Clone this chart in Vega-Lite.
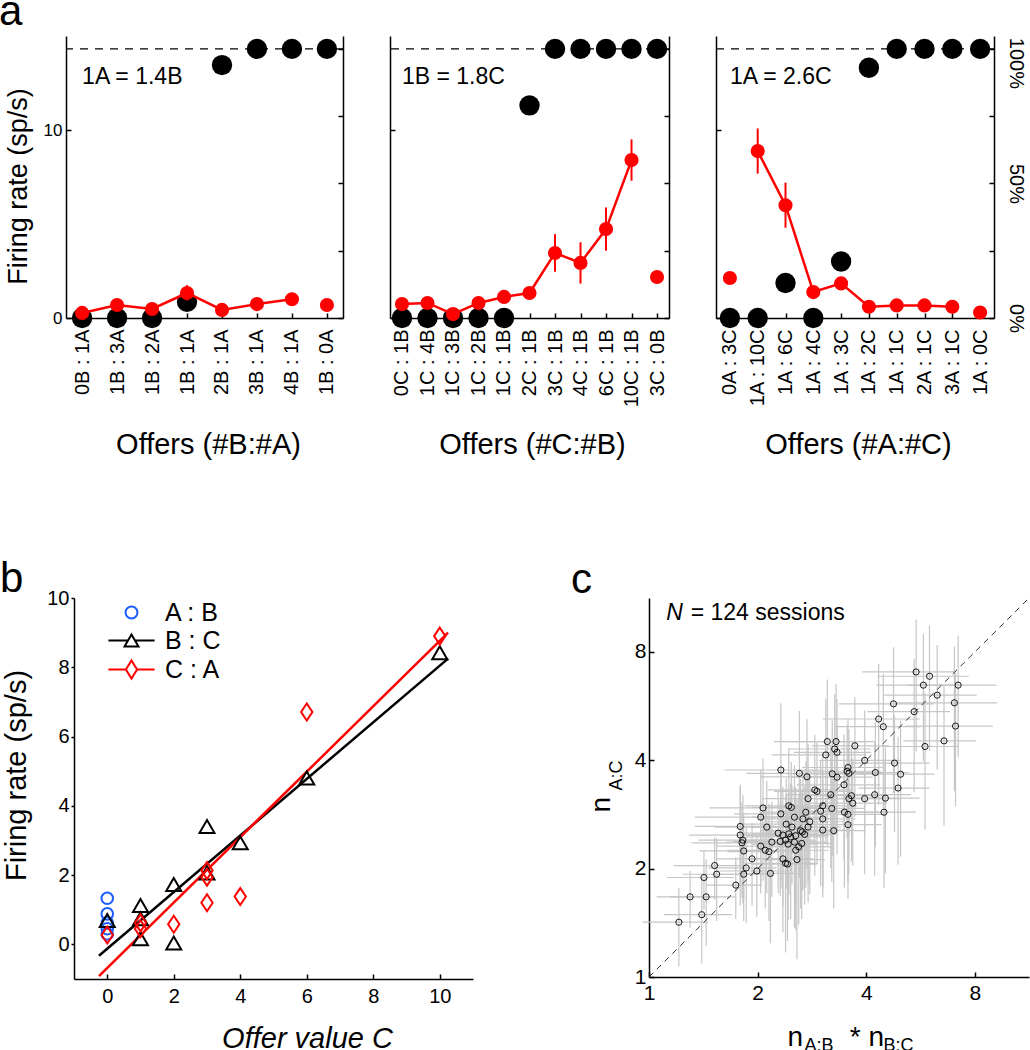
{
  "$schema": "https://vega.github.io/schema/vega-lite/v6.json",
  "padding": {"left": -2, "top": -9, "right": 0, "bottom": 0},
  "background": "white",
  "config": {
    "font": "Liberation Sans",
    "view": {"stroke": null},
    "axis": {"domainColor": "black", "domainWidth": 1.5, "tickColor": "black", "tickWidth": 1.5, "labelColor": "black", "titleColor": "black", "titleFontWeight": "normal", "grid": false, "labelFlush": false, "labelOverlap": false},
    "title": {"fontWeight": "normal", "color": "black", "anchor": "start", "fontSize": 42, "frame": "bounds"}
  },
  "datasets": {
    "a1": [
      {"offer": "0B : 1A", "choice": 0, "rate": 0.27, "lo": 0.17, "hi": 0.37, "conn": 1},
      {"offer": "1B : 3A", "choice": 0, "rate": 0.69, "lo": 0.54, "hi": 0.84, "conn": 1},
      {"offer": "1B : 2A", "choice": 0, "rate": 0.48, "lo": 0.36, "hi": 0.6, "conn": 1},
      {"offer": "1B : 1A", "choice": 6, "rate": 1.33, "lo": 0.93, "hi": 1.75, "conn": 1},
      {"offer": "2B : 1A", "choice": 94, "rate": 0.43, "lo": 0.33, "hi": 0.53, "conn": 1},
      {"offer": "3B : 1A", "choice": 100, "rate": 0.74, "lo": 0.5, "hi": 0.98, "conn": 1},
      {"offer": "4B : 1A", "choice": 100, "rate": 1.0, "lo": 0.85, "hi": 1.15, "conn": 1},
      {"offer": "1B : 0A", "choice": 100, "rate": 0.69, "lo": 0.59, "hi": 0.79, "conn": 0}
    ],
    "a2": [
      {"offer": "0C : 1B", "choice": 0, "rate": 0.74, "lo": 0.6, "hi": 0.88, "conn": 1},
      {"offer": "1C : 4B", "choice": 0, "rate": 0.8, "lo": 0.65, "hi": 0.95, "conn": 1},
      {"offer": "1C : 3B", "choice": 0, "rate": 0.21, "lo": 0.11, "hi": 0.31, "conn": 1},
      {"offer": "1C : 2B", "choice": 0, "rate": 0.8, "lo": 0.6, "hi": 1.0, "conn": 1},
      {"offer": "1C : 1B", "choice": 0, "rate": 1.12, "lo": 0.92, "hi": 1.32, "conn": 1},
      {"offer": "2C : 1B", "choice": 79, "rate": 1.33, "lo": 1.13, "hi": 1.53, "conn": 1},
      {"offer": "3C : 1B", "choice": 100, "rate": 3.46, "lo": 2.46, "hi": 4.46, "conn": 1},
      {"offer": "4C : 1B", "choice": 100, "rate": 2.93, "lo": 1.83, "hi": 4.03, "conn": 1},
      {"offer": "6C : 1B", "choice": 100, "rate": 4.73, "lo": 3.58, "hi": 5.88, "conn": 1},
      {"offer": "10C : 1B", "choice": 100, "rate": 8.4, "lo": 7.3, "hi": 9.5, "conn": 1},
      {"offer": "3C : 0B", "choice": 100, "rate": 2.18, "lo": 2.08, "hi": 2.28, "conn": 0}
    ],
    "a3": [
      {"offer": "0A : 3C", "choice": 0, "rate": 2.13, "lo": 2.03, "hi": 2.23, "conn": 0},
      {"offer": "1A : 10C", "choice": 0, "rate": 8.88, "lo": 7.68, "hi": 10.08, "conn": 1},
      {"offer": "1A : 6C", "choice": 13, "rate": 6.0, "lo": 4.8, "hi": 7.2, "conn": 1},
      {"offer": "1A : 4C", "choice": 0, "rate": 1.38, "lo": 1.18, "hi": 1.58, "conn": 1},
      {"offer": "1A : 3C", "choice": 21, "rate": 1.84, "lo": 1.49, "hi": 2.19, "conn": 1},
      {"offer": "1A : 2C", "choice": 93, "rate": 0.6, "lo": 0.5, "hi": 0.7, "conn": 1},
      {"offer": "1A : 1C", "choice": 100, "rate": 0.67, "lo": 0.57, "hi": 0.77, "conn": 1},
      {"offer": "2A : 1C", "choice": 100, "rate": 0.67, "lo": 0.57, "hi": 0.77, "conn": 1},
      {"offer": "3A : 1C", "choice": 100, "rate": 0.6, "lo": 0.5, "hi": 0.7, "conn": 1},
      {"offer": "1A : 0C", "choice": 100, "rate": 0.29, "lo": 0.19, "hi": 0.39, "conn": 0}
    ],
    "b": [
      {"series": "A : B", "x": 0, "y": 1.33}, {"series": "A : B", "x": 0, "y": 0.88}, {"series": "A : B", "x": 0, "y": 0.62}, {"series": "A : B", "x": 0, "y": 0.45}, {"series": "A : B", "x": 0, "y": 0.3},
      {"series": "B : C", "x": 0, "y": 0.69}, {"series": "B : C", "x": 1, "y": 1.12}, {"series": "B : C", "x": 1, "y": 0.74}, {"series": "B : C", "x": 1, "y": 0.16}, {"series": "B : C", "x": 2, "y": 1.73}, {"series": "B : C", "x": 2, "y": 0.04}, {"series": "B : C", "x": 3, "y": 3.4}, {"series": "B : C", "x": 3, "y": 2.06}, {"series": "B : C", "x": 4, "y": 2.93}, {"series": "B : C", "x": 6, "y": 4.8}, {"series": "B : C", "x": 10, "y": 8.42},
      {"series": "C : A", "x": 0, "y": 0.27}, {"series": "C : A", "x": 1, "y": 0.62}, {"series": "C : A", "x": 1, "y": 0.45}, {"series": "C : A", "x": 2, "y": 0.58}, {"series": "C : A", "x": 3, "y": 2.13}, {"series": "C : A", "x": 3, "y": 1.94}, {"series": "C : A", "x": 3, "y": 1.2}, {"series": "C : A", "x": 4, "y": 1.38}, {"series": "C : A", "x": 6, "y": 6.71}, {"series": "C : A", "x": 10, "y": 8.9}
    ],
    "bfit": [
      {"series": "B : C", "x": -0.25, "y": -0.33}, {"series": "B : C", "x": 10.25, "y": 8.25},
      {"series": "C : A", "x": -0.25, "y": -0.92}, {"series": "C : A", "x": 10.25, "y": 9.0}
    ],
    "diag": [{"v": 1}, {"v": 11.3}],
    "c": [
      {"x":1.21,"y":1.42,"ex":0.25,"ey":0.35},{"x":1.40,"y":1.49,"ex":0.3,"ey":0.4},{"x":1.30,"y":1.67,"ex":0.25,"ey":0.3},{"x":1.44,"y":1.67,"ex":0.3,"ey":0.45},{"x":1.42,"y":1.89,"ex":0.3,"ey":0.35},{"x":1.52,"y":2.04,"ex":0.35,"ey":0.4},{"x":1.54,"y":1.93,"ex":0.3,"ey":0.5},{"x":1.74,"y":1.80,"ex":0.3,"ey":0.35},{"x":1.83,"y":1.93,"ex":0.35,"ey":0.5},{"x":1.86,"y":2.01,"ex":0.4,"ey":0.6},
      {"x":1.99,"y":1.97,"ex":0.45,"ey":0.5},{"x":1.93,"y":2.13,"ex":0.4,"ey":0.55},{"x":2.17,"y":1.94,"ex":0.4,"ey":0.7},{"x":1.83,"y":2.24,"ex":0.45,"ey":0.6},{"x":1.81,"y":2.36,"ex":0.5,"ey":0.7},{"x":1.82,"y":2.40,"ex":0.45,"ey":0.8},{"x":1.79,"y":2.48,"ex":0.5,"ey":0.9},{"x":1.79,"y":2.62,"ex":0.45,"ey":0.8},{"x":2.04,"y":2.31,"ex":0.5,"ey":0.6},{"x":2.10,"y":2.25,"ex":0.45,"ey":0.7},
      {"x":2.15,"y":2.23,"ex":0.5,"ey":0.8},{"x":2.19,"y":2.37,"ex":0.55,"ey":0.7},{"x":2.12,"y":2.61,"ex":0.6,"ey":0.9},{"x":2.04,"y":2.78,"ex":0.7,"ey":1.0},{"x":2.07,"y":2.95,"ex":0.6,"ey":1.1},{"x":2.32,"y":2.84,"ex":0.6,"ey":1.0},{"x":2.44,"y":2.99,"ex":0.6,"ey":1.3},{"x":2.48,"y":2.96,"ex":0.55,"ey":1.0},{"x":2.28,"y":2.51,"ex":0.5,"ey":0.8},{"x":2.35,"y":2.48,"ex":0.55,"ey":0.9},
      {"x":2.31,"y":2.38,"ex":0.6,"ey":0.7},{"x":2.39,"y":2.40,"ex":0.5,"ey":0.8},{"x":2.40,"y":2.66,"ex":0.6,"ey":0.9},{"x":2.44,"y":2.50,"ex":0.5,"ey":0.8},{"x":2.47,"y":2.45,"ex":0.6,"ey":1.0},{"x":2.43,"y":2.34,"ex":0.5,"ey":0.9},{"x":2.49,"y":2.61,"ex":0.55,"ey":0.8},{"x":2.53,"y":2.78,"ex":0.6,"ey":1.1},{"x":2.55,"y":2.47,"ex":0.6,"ey":0.9},{"x":2.53,"y":2.37,"ex":0.55,"ey":1.0},
      {"x":2.55,"y":2.25,"ex":0.6,"ey":0.9},{"x":2.57,"y":2.12,"ex":0.5,"ey":1.0},{"x":2.35,"y":2.13,"ex":0.5,"ey":0.8},{"x":2.39,"y":2.07,"ex":0.55,"ey":0.9},{"x":2.42,"y":2.06,"ex":0.5,"ey":0.8},{"x":2.60,"y":2.30,"ex":0.6,"ey":0.9},{"x":2.63,"y":2.55,"ex":0.6,"ey":1.0},{"x":2.66,"y":2.53,"ex":0.55,"ey":0.8},{"x":2.65,"y":2.35,"ex":0.6,"ey":0.9},{"x":2.67,"y":2.75,"ex":0.65,"ey":1.0},
      {"x":2.70,"y":2.49,"ex":0.6,"ey":0.9},{"x":2.72,"y":2.87,"ex":0.7,"ey":1.1},{"x":2.76,"y":2.61,"ex":0.65,"ey":1.0},{"x":2.79,"y":2.70,"ex":0.7,"ey":1.0},{"x":2.76,"y":3.13,"ex":0.7,"ey":1.3},{"x":2.88,"y":3.31,"ex":0.75,"ey":1.4},{"x":2.92,"y":3.28,"ex":0.7,"ey":1.2},{"x":2.99,"y":2.89,"ex":0.7,"ey":1.1},{"x":3.03,"y":2.99,"ex":0.75,"ey":1.2},{"x":3.03,"y":2.75,"ex":0.7,"ey":1.0},
      {"x":3.03,"y":2.56,"ex":0.65,"ey":0.9},{"x":3.19,"y":3.21,"ex":0.8,"ey":1.2},{"x":3.21,"y":2.94,"ex":0.75,"ey":1.1},{"x":3.25,"y":2.55,"ex":0.7,"ey":1.0},{"x":2.32,"y":3.76,"ex":0.7,"ey":2.0},{"x":2.61,"y":3.68,"ex":0.75,"ey":1.8},{"x":2.74,"y":3.60,"ex":0.7,"ey":1.6},{"x":3.12,"y":4.51,"ex":0.9,"ey":2.2},{"x":3.30,"y":4.51,"ex":0.9,"ey":2.0},{"x":3.27,"y":4.30,"ex":0.85,"ey":1.8},
      {"x":3.32,"y":4.21,"ex":0.8,"ey":1.7},{"x":3.09,"y":4.14,"ex":0.9,"ey":1.8},{"x":3.22,"y":3.67,"ex":0.8,"ey":1.5},{"x":3.32,"y":3.59,"ex":0.85,"ey":1.4},{"x":3.47,"y":3.42,"ex":0.9,"ey":1.3},{"x":3.56,"y":3.82,"ex":0.9,"ey":1.4},{"x":3.54,"y":3.73,"ex":0.85,"ey":1.3},{"x":3.58,"y":3.68,"ex":0.9,"ey":1.2},{"x":3.64,"y":3.19,"ex":0.9,"ey":1.1},{"x":3.58,"y":3.13,"ex":0.85,"ey":1.2},
      {"x":3.67,"y":3.04,"ex":0.9,"ey":1.0},{"x":3.48,"y":2.87,"ex":0.85,"ey":1.1},{"x":3.56,"y":2.83,"ex":0.9,"ey":1.0},{"x":3.56,"y":2.65,"ex":0.85,"ey":1.0},{"x":3.72,"y":4.39,"ex":0.9,"ey":1.6},{"x":3.96,"y":4.00,"ex":1.0,"ey":1.5},{"x":3.96,"y":3.13,"ex":1.0,"ey":1.2},{"x":4.22,"y":3.21,"ex":1.1,"ey":1.3},{"x":4.24,"y":3.70,"ex":1.0,"ey":1.4},{"x":4.52,"y":3.14,"ex":1.1,"ey":1.2},
      {"x":4.48,"y":2.87,"ex":1.0,"ey":1.1},{"x":4.79,"y":3.93,"ex":1.2,"ey":1.4},{"x":4.98,"y":3.66,"ex":1.2,"ey":1.5},{"x":4.90,"y":3.35,"ex":1.1,"ey":1.3},{"x":4.33,"y":5.21,"ex":1.3,"ey":2.2},{"x":4.46,"y":4.96,"ex":1.2,"ey":2.0},{"x":4.76,"y":5.74,"ex":1.4,"ey":2.5},{"x":5.43,"y":5.46,"ex":1.4,"ey":2.2},{"x":5.50,"y":7.04,"ex":1.6,"ey":2.8},{"x":5.99,"y":6.85,"ex":1.7,"ey":2.6},
      {"x":5.76,"y":6.47,"ex":1.5,"ey":2.5},{"x":7.19,"y":6.47,"ex":2.0,"ey":2.4},{"x":6.29,"y":6.07,"ex":1.8,"ey":2.3},{"x":7.02,"y":5.78,"ex":2.2,"ey":2.5},{"x":7.07,"y":4.98,"ex":1.9,"ey":2.0},{"x":6.57,"y":4.53,"ex":1.5,"ey":1.9},{"x":5.82,"y":4.37,"ex":1.4,"ey":1.8}
    ]
  },
  "spacing": 562,
  "bounds": "flush",
  "vconcat": [
    {
      "title": {"text": "a", "offset": 2, "dx": -5},
      "spacing": 47,
      "bounds": "flush",
      "hconcat": [
        {
          "width": 277, "height": 282,
          "data": {"name": "a1"},
          "resolve": {"scale": {"y": "independent"}},
          "layer": [
            {"layer": [
              {"data": {"values": [{}]}, "mark": {"type": "rule", "strokeDash": [8, 7], "strokeWidth": 1.3, "color": "black"},
               "encoding": {"y": {"datum": 100, "type": "quantitative", "scale": {"domain": [0, 104.8]}, "axis": {"orient": "right", "values": [0, 25, 50, 75, 100], "tickSize": -5, "labels": false, "title": null}}}},
              {"mark": {"type": "circle", "size": 415, "color": "black", "opacity": 1},
               "encoding": {
                 "x": {"field": "offer", "type": "nominal", "scale": {"type": "point", "padding": 0.46, "domain": ["0B : 1A", "1B : 3A", "1B : 2A", "1B : 1A", "2B : 1A", "3B : 1A", "4B : 1A", "1B : 0A"]}, "axis": {"labelAngle": -90, "labelFontSize": 20, "labelPadding": 16, "tickSize": -5, "title": "Offers (#B:#A)", "titleFontSize": 29, "titleX": 142, "titleY": 135, "titleAlign": "center", "titleBaseline": "alphabetic"}},
                 "y": {"field": "choice", "type": "quantitative", "scale": {"domain": [0, 104.8]}, "axis": {"orient": "right", "values": [0, 25, 50, 75, 100], "tickSize": -5, "labels": false, "title": null}}}}
            ]},
            {"layer": [
              {"mark": {"type": "rule", "color": "red", "strokeWidth": 2},
               "encoding": {
                 "x": {"field": "offer", "type": "nominal", "scale": {"type": "point", "padding": 0.46, "domain": ["0B : 1A", "1B : 3A", "1B : 2A", "1B : 1A", "2B : 1A", "3B : 1A", "4B : 1A", "1B : 0A"]}},
                 "y": {"field": "lo", "type": "quantitative", "scale": {"domain": [0, 15]}, "axis": {"orient": "left", "values": [0, 10], "tickSize": -5, "labelFontSize": 17, "labelPadding": 9, "title": "Firing rate (sp/s)", "titleFontSize": 27, "titleX": -40, "titleY": 150, "titleAlign": "center", "titleBaseline": "alphabetic", "titleAngle": -90}},
                 "y2": {"field": "hi"}}},
              {"transform": [{"filter": "datum.conn == 1"}], "mark": {"type": "line", "color": "red", "strokeWidth": 2.5},
               "encoding": {
                 "x": {"field": "offer", "type": "nominal", "scale": {"type": "point", "padding": 0.46, "domain": ["0B : 1A", "1B : 3A", "1B : 2A", "1B : 1A", "2B : 1A", "3B : 1A", "4B : 1A", "1B : 0A"]}},
                 "y": {"field": "rate", "type": "quantitative", "scale": {"domain": [0, 15]}}}},
              {"mark": {"type": "circle", "size": 200, "color": "red", "opacity": 1},
               "encoding": {
                 "x": {"field": "offer", "type": "nominal", "scale": {"type": "point", "padding": 0.46, "domain": ["0B : 1A", "1B : 3A", "1B : 2A", "1B : 1A", "2B : 1A", "3B : 1A", "4B : 1A", "1B : 0A"]}},
                 "y": {"field": "rate", "type": "quantitative", "scale": {"domain": [0, 15]}}}},
              {"data": {"values": [{}]}, "mark": {"type": "text", "text": "1A = 1.4B", "align": "left", "baseline": "alphabetic", "fontSize": 23, "color": "black"},
               "encoding": {
                 "x": {"datum": "0B : 1A", "type": "nominal", "scale": {"type": "point", "padding": 0.46, "domain": ["0B : 1A", "1B : 3A", "1B : 2A", "1B : 1A", "2B : 1A", "3B : 1A", "4B : 1A", "1B : 0A"]}},
                 "y": {"datum": 12.45, "type": "quantitative", "scale": {"domain": [0, 15]}}}}
            ]}
          ]
        },
        {
          "width": 279, "height": 282,
          "data": {"name": "a2"},
          "resolve": {"scale": {"y": "independent"}},
          "layer": [
            {"layer": [
              {"data": {"values": [{}]}, "mark": {"type": "rule", "strokeDash": [8, 7], "strokeWidth": 1.3, "color": "black"},
               "encoding": {"y": {"datum": 100, "type": "quantitative", "scale": {"domain": [0, 104.8]}, "axis": {"orient": "right", "values": [0, 25, 50, 75, 100], "tickSize": -5, "labels": false, "title": null}}}},
              {"mark": {"type": "circle", "size": 415, "color": "black", "opacity": 1},
               "encoding": {
                 "x": {"field": "offer", "type": "nominal", "scale": {"type": "point", "padding": 0.47, "domain": ["0C : 1B", "1C : 4B", "1C : 3B", "1C : 2B", "1C : 1B", "2C : 1B", "3C : 1B", "4C : 1B", "6C : 1B", "10C : 1B", "3C : 0B"]}, "axis": {"labelAngle": -90, "labelFontSize": 20, "labelPadding": 16, "tickSize": -5, "title": "Offers (#C:#B)", "titleFontSize": 29, "titleX": 142, "titleY": 135, "titleAlign": "center", "titleBaseline": "alphabetic"}},
                 "y": {"field": "choice", "type": "quantitative", "scale": {"domain": [0, 104.8]}, "axis": {"orient": "right", "values": [0, 25, 50, 75, 100], "tickSize": -5, "labels": false, "title": null}}}}
            ]},
            {"layer": [
              {"mark": {"type": "rule", "color": "red", "strokeWidth": 2},
               "encoding": {
                 "x": {"field": "offer", "type": "nominal", "scale": {"type": "point", "padding": 0.47, "domain": ["0C : 1B", "1C : 4B", "1C : 3B", "1C : 2B", "1C : 1B", "2C : 1B", "3C : 1B", "4C : 1B", "6C : 1B", "10C : 1B", "3C : 0B"]}},
                 "y": {"field": "lo", "type": "quantitative", "scale": {"domain": [0, 15]}, "axis": {"orient": "left", "values": [0, 10], "tickSize": -5, "labels": false, "title": null}},
                 "y2": {"field": "hi"}}},
              {"transform": [{"filter": "datum.conn == 1"}], "mark": {"type": "line", "color": "red", "strokeWidth": 2.5},
               "encoding": {
                 "x": {"field": "offer", "type": "nominal", "scale": {"type": "point", "padding": 0.47, "domain": ["0C : 1B", "1C : 4B", "1C : 3B", "1C : 2B", "1C : 1B", "2C : 1B", "3C : 1B", "4C : 1B", "6C : 1B", "10C : 1B", "3C : 0B"]}},
                 "y": {"field": "rate", "type": "quantitative", "scale": {"domain": [0, 15]}}}},
              {"mark": {"type": "circle", "size": 200, "color": "red", "opacity": 1},
               "encoding": {
                 "x": {"field": "offer", "type": "nominal", "scale": {"type": "point", "padding": 0.47, "domain": ["0C : 1B", "1C : 4B", "1C : 3B", "1C : 2B", "1C : 1B", "2C : 1B", "3C : 1B", "4C : 1B", "6C : 1B", "10C : 1B", "3C : 0B"]}},
                 "y": {"field": "rate", "type": "quantitative", "scale": {"domain": [0, 15]}}}},
              {"data": {"values": [{}]}, "mark": {"type": "text", "text": "1B = 1.8C", "align": "left", "baseline": "alphabetic", "fontSize": 23, "color": "black"},
               "encoding": {
                 "x": {"datum": "0C : 1B", "type": "nominal", "scale": {"type": "point", "padding": 0.47, "domain": ["0C : 1B", "1C : 4B", "1C : 3B", "1C : 2B", "1C : 1B", "2C : 1B", "3C : 1B", "4C : 1B", "6C : 1B", "10C : 1B", "3C : 0B"]}},
                 "y": {"datum": 12.45, "type": "quantitative", "scale": {"domain": [0, 15]}}}}
            ]}
          ]
        },
        {
          "width": 278, "height": 282,
          "data": {"name": "a3"},
          "resolve": {"scale": {"y": "independent"}},
          "layer": [
            {"layer": [
              {"data": {"values": [{}]}, "mark": {"type": "rule", "strokeDash": [8, 7], "strokeWidth": 1.3, "color": "black"},
               "encoding": {"y": {"datum": 100, "type": "quantitative", "scale": {"domain": [0, 104.8]}, "axis": {"orient": "right", "values": [0, 25, 50, 75, 100], "tickSize": -5, "labelAngle": 90, "labelFontSize": 20, "labelPadding": 20, "labelAlign": "center", "labelBaseline": "alphabetic", "labelOffset": {"condition": {"test": "datum.value == 100", "value": 14}, "value": 0}, "labelExpr": "datum.value % 50 == 0 ? datum.value + '%' : ''", "title": null}}}},
              {"mark": {"type": "circle", "size": 415, "color": "black", "opacity": 1},
               "encoding": {
                 "x": {"field": "offer", "type": "nominal", "scale": {"type": "point", "padding": 0.5, "domain": ["0A : 3C", "1A : 10C", "1A : 6C", "1A : 4C", "1A : 3C", "1A : 2C", "1A : 1C", "2A : 1C", "3A : 1C", "1A : 0C"]}, "axis": {"labelAngle": -90, "labelFontSize": 20, "labelPadding": 16, "tickSize": -5, "title": "Offers (#A:#C)", "titleFontSize": 29, "titleX": 142, "titleY": 135, "titleAlign": "center", "titleBaseline": "alphabetic"}},
                 "y": {"field": "choice", "type": "quantitative", "scale": {"domain": [0, 104.8]}, "axis": {"orient": "right", "values": [0, 25, 50, 75, 100], "tickSize": -5, "labelAngle": 90, "labelFontSize": 20, "labelPadding": 20, "labelAlign": "center", "labelBaseline": "alphabetic", "labelOffset": {"condition": {"test": "datum.value == 100", "value": 14}, "value": 0}, "labelExpr": "datum.value % 50 == 0 ? datum.value + '%' : ''", "title": null}}}}
            ]},
            {"layer": [
              {"mark": {"type": "rule", "color": "red", "strokeWidth": 2},
               "encoding": {
                 "x": {"field": "offer", "type": "nominal", "scale": {"type": "point", "padding": 0.5, "domain": ["0A : 3C", "1A : 10C", "1A : 6C", "1A : 4C", "1A : 3C", "1A : 2C", "1A : 1C", "2A : 1C", "3A : 1C", "1A : 0C"]}},
                 "y": {"field": "lo", "type": "quantitative", "scale": {"domain": [0, 15]}, "axis": {"orient": "left", "values": [0, 10], "tickSize": -5, "labels": false, "title": null}},
                 "y2": {"field": "hi"}}},
              {"transform": [{"filter": "datum.conn == 1"}], "mark": {"type": "line", "color": "red", "strokeWidth": 2.5},
               "encoding": {
                 "x": {"field": "offer", "type": "nominal", "scale": {"type": "point", "padding": 0.5, "domain": ["0A : 3C", "1A : 10C", "1A : 6C", "1A : 4C", "1A : 3C", "1A : 2C", "1A : 1C", "2A : 1C", "3A : 1C", "1A : 0C"]}},
                 "y": {"field": "rate", "type": "quantitative", "scale": {"domain": [0, 15]}}}},
              {"mark": {"type": "circle", "size": 200, "color": "red", "opacity": 1},
               "encoding": {
                 "x": {"field": "offer", "type": "nominal", "scale": {"type": "point", "padding": 0.5, "domain": ["0A : 3C", "1A : 10C", "1A : 6C", "1A : 4C", "1A : 3C", "1A : 2C", "1A : 1C", "2A : 1C", "3A : 1C", "1A : 0C"]}},
                 "y": {"field": "rate", "type": "quantitative", "scale": {"domain": [0, 15]}}}},
              {"data": {"values": [{}]}, "mark": {"type": "text", "text": "1A = 2.6C", "align": "left", "baseline": "alphabetic", "fontSize": 23, "color": "black"},
               "encoding": {
                 "x": {"datum": "0A : 3C", "type": "nominal", "scale": {"type": "point", "padding": 0.5, "domain": ["0A : 3C", "1A : 10C", "1A : 6C", "1A : 4C", "1A : 3C", "1A : 2C", "1A : 1C", "2A : 1C", "3A : 1C", "1A : 0C"]}},
                 "y": {"datum": 12.45, "type": "quantitative", "scale": {"domain": [0, 15]}}}}
            ]}
          ]
        }
      ]
    },
    {
      "spacing": 0,
      "bounds": "flush",
      "hconcat": [
        {"width": 8, "height": 10, "data": {"values": [{}]}, "mark": {"type": "point", "opacity": 0}},
        {
          "width": 399, "height": 381,
          "title": {"text": "b", "offset": -13, "dx": -2},
          "layer": [
            {"data": {"name": "bfit"}, "transform": [{"filter": "datum.series == 'B : C'"}], "mark": {"type": "line", "color": "black", "strokeWidth": 2.5},
             "encoding": {
               "x": {"field": "x", "type": "quantitative", "scale": {"domain": [-1, 11], "nice": false}, "axis": {"values": [0, 2, 4, 6, 8, 10], "labelFontSize": 20, "tickSize": -5, "labelPadding": 12, "title": "Offer value C", "titleFontSize": 29, "titleFontStyle": "italic", "titleX": 233, "titleY": 68, "titleAlign": "center", "titleBaseline": "alphabetic"}},
               "y": {"field": "y", "type": "quantitative", "scale": {"domain": [-1, 10], "nice": false}, "axis": {"values": [0, 2, 4, 6, 8, 10], "labelFontSize": 20, "tickSize": 3, "labelPadding": 2, "title": "Firing rate (sp/s)", "titleFontSize": 29, "titleX": -49, "titleY": 177, "titleAlign": "center", "titleBaseline": "alphabetic", "titleAngle": -90}}}},
            {"data": {"name": "bfit"}, "transform": [{"filter": "datum.series == 'C : A'"}], "mark": {"type": "line", "color": "red", "strokeWidth": 2.5},
             "encoding": {"x": {"field": "x", "type": "quantitative"}, "y": {"field": "y", "type": "quantitative"}}},
            {"data": {"name": "b"}, "transform": [{"filter": "datum.series == 'A : B'"}], "mark": {"type": "point", "shape": "circle", "size": 133, "filled": false, "color": "#1a5cff", "strokeWidth": 2, "opacity": 1},
             "encoding": {"x": {"field": "x", "type": "quantitative"}, "y": {"field": "y", "type": "quantitative"}}},
            {"data": {"name": "b"}, "transform": [{"filter": "datum.series == 'B : C'"}], "mark": {"type": "point", "shape": "triangle-up", "size": 225, "filled": false, "color": "black", "strokeWidth": 2, "opacity": 1},
             "encoding": {"x": {"field": "x", "type": "quantitative"}, "y": {"field": "y", "type": "quantitative"}}},
            {"data": {"name": "b"}, "transform": [{"filter": "datum.series == 'C : A'"}], "mark": {"type": "point", "shape": "M0,-1.2L0.8,0L0,1.2L-0.8,0Z", "size": 200, "filled": false, "color": "red", "strokeWidth": 2, "opacity": 1},
             "encoding": {"x": {"field": "x", "type": "quantitative"}, "y": {"field": "y", "type": "quantitative"}}},
            {"data": {"name": "b"}, "mark": {"type": "point", "filled": false, "opacity": 0, "strokeWidth": 2},
             "encoding": {
               "x": {"field": "x", "type": "quantitative"}, "y": {"field": "y", "type": "quantitative"},
               "color": {"field": "series", "type": "nominal", "scale": {"domain": ["A : B", "B : C", "C : A"], "range": ["#1a5cff", "black", "red"]},
                 "legend": {"orient": "none", "legendX": 53, "legendY": 564, "title": null, "padding": 0, "labelFontSize": 25, "labelOffset": 21, "symbolSize": 196, "symbolStrokeWidth": 2, "rowPadding": 2, "symbolOpacity": 1, "labelColor": "black", "encode": {"symbols": {"update": {"opacity": {"value": 1}}}}}},
               "shape": {"field": "series", "type": "nominal", "scale": {"domain": ["A : B", "B : C", "C : A"], "range": ["M0.85,0A0.85,0.85,0,1,1,-0.85,0A0.85,0.85,0,1,1,0.85,0Z", "M-3.3,0H-0.5M0.5,0H3.3M0,-0.87L1,0.87L-1,0.87Z", "M-3.3,0H-0.8M0.8,0H3.3M0,-1.3L0.8,0L0,1.3L-0.8,0Z"]},
                 "legend": {"orient": "none", "legendX": 53, "legendY": 564, "title": null, "padding": 0, "labelFontSize": 25, "labelOffset": 21, "symbolSize": 196, "symbolStrokeWidth": 2, "rowPadding": 2, "symbolOpacity": 1, "labelColor": "black", "encode": {"symbols": {"update": {"opacity": {"value": 1}}}}}}}}
          ]
        },
        {"width": 176, "height": 10, "data": {"values": [{}]}, "mark": {"type": "point", "opacity": 0}},
        {
          "width": 380, "height": 379,
          "title": {"text": "c", "offset": -6, "dx": -16},
          "resolve": {"scale": {"x": "independent", "y": "independent"}},
          "layer": [
            {"layer": [
              {"data": {"name": "c"}, "mark": {"type": "errorbar", "color": "#c6c6c6", "thickness": 1.2},
               "encoding": {
                 "x": {"field": "x", "type": "quantitative", "title": "n\u00a0\u00a0\u00a0\u00a0\u00a0\u00a0* n", "scale": {"type": "log", "base": 2, "domain": [1, 11.3], "nice": false}, "axis": {"values": [1, 2, 4, 8], "labelFontSize": 21, "tickSize": -5, "labelPadding": 10, "title": "n\u00a0\u00a0\u00a0\u00a0\u00a0\u00a0* n", "titleFontSize": 28, "titleX": 138, "titleY": 68, "titleAlign": "left", "titleBaseline": "alphabetic"}},
                 "xError": {"field": "ex"},
                 "y": {"field": "y", "type": "quantitative", "title": "n", "scale": {"type": "log", "base": 2, "domain": [1, 11.3], "nice": false}, "axis": {"values": [1, 2, 4, 8], "labelFontSize": 21, "tickSize": -5, "labelPadding": 8, "title": "n", "titleFontSize": 28, "titleX": -40, "titleY": 214, "titleAlign": "left", "titleBaseline": "alphabetic", "titleAngle": -90}}}},
              {"data": {"name": "c"}, "mark": {"type": "errorbar", "color": "#c6c6c6", "thickness": 1.2},
               "encoding": {
                 "x": {"field": "x", "type": "quantitative", "title": "n\u00a0\u00a0\u00a0\u00a0\u00a0\u00a0* n"},
                 "y": {"field": "y", "type": "quantitative", "title": "n", "axis": {"values": [1, 2, 4, 8], "labelFontSize": 21, "tickSize": -5, "labelPadding": 8, "title": "n", "titleFontSize": 28, "titleX": -40, "titleY": 214, "titleAlign": "left", "titleBaseline": "alphabetic", "titleAngle": -90}},
                 "yError": {"field": "ey"}}},
              {"data": {"name": "diag"}, "mark": {"type": "line", "color": "#333333", "strokeWidth": 1, "strokeDash": [6, 5]},
               "encoding": {"x": {"field": "v", "type": "quantitative", "title": "n\u00a0\u00a0\u00a0\u00a0\u00a0\u00a0* n"}, "y": {"field": "v", "type": "quantitative", "title": "n"}}},
              {"data": {"name": "c"}, "mark": {"type": "point", "shape": "circle", "size": 38, "filled": false, "color": "black", "strokeWidth": 0.9, "opacity": 1},
               "encoding": {"x": {"field": "x", "type": "quantitative", "title": "n\u00a0\u00a0\u00a0\u00a0\u00a0\u00a0* n"}, "y": {"field": "y", "type": "quantitative", "title": "n"}}},
              {"data": {"values": [{}]}, "mark": {"type": "text", "text": "N", "fontStyle": "italic", "fontSize": 23, "align": "left", "baseline": "alphabetic", "color": "black"},
               "encoding": {"x": {"datum": 1.117, "type": "quantitative", "title": "n\u00a0\u00a0\u00a0\u00a0\u00a0\u00a0* n"}, "y": {"datum": 9.79, "type": "quantitative", "title": "n"}}},
              {"data": {"values": [{}]}, "mark": {"type": "text", "text": "= 124 sessions", "fontSize": 23, "align": "left", "baseline": "alphabetic", "color": "black"},
               "encoding": {"x": {"datum": 1.305, "type": "quantitative", "title": "n\u00a0\u00a0\u00a0\u00a0\u00a0\u00a0* n"}, "y": {"datum": 9.79, "type": "quantitative", "title": "n"}}}
            ]},
            {"data": {"values": [{}]}, "mark": {"type": "point", "opacity": 0},
             "encoding": {
               "x": {"datum": 2, "type": "quantitative", "scale": {"type": "log", "base": 2, "domain": [1, 11.3], "nice": false}, "axis": {"orient": "bottom", "domain": false, "ticks": false, "labels": false, "title": "A:B\u00a0\u00a0\u00a0\u00a0\u00a0\u00a0\u00a0\u00a0\u00a0\u00a0B:C", "titleFontSize": 18, "titleX": 155, "titleY": 73, "titleAlign": "left", "titleBaseline": "alphabetic"}},
               "y": {"datum": 2, "type": "quantitative", "scale": {"type": "log", "base": 2, "domain": [1, 11.3], "nice": false}, "axis": {"orient": "left", "domain": false, "ticks": false, "labels": false, "title": "A:C", "titleFontSize": 18, "titleX": -28, "titleY": 192, "titleAlign": "left", "titleBaseline": "alphabetic", "titleAngle": -90}}}}
          ]
        }
      ]
    }
  ]
}
